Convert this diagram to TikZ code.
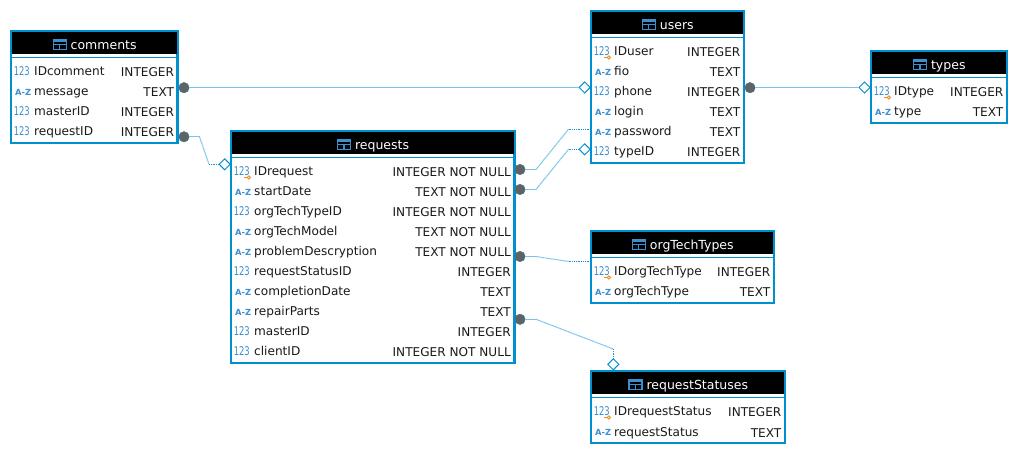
\documentclass[tikz,border=0pt]{standalone}
\usepackage{fontspec}
\setmainfont{DejaVu Sans}
\usetikzlibrary{shapes.geometric,calc}
\definecolor{erblue}{HTML}{0090D0}
\definecolor{iconblue}{HTML}{3A8FD0}
\definecolor{linklight}{HTML}{78C4EA}
\definecolor{linkdark}{HTML}{1C8FC4}
\definecolor{keyorange}{HTML}{F08A1C}
\definecolor{dotgrey}{HTML}{606264}
\tikzset{
  tablebox/.style={draw=erblue,line width=2.4pt,fill=white,inner sep=0pt,outer sep=0pt,rectangle},
  headbar/.style={fill=black,inner sep=0pt,outer sep=0pt,rectangle},
  titletext/.style={text=white,inner sep=0pt,font=\fontsize{12.5}{14}\selectfont},
  fieldname/.style={anchor=base west,inner sep=0pt,text=black!90,font=\fontsize{12.1}{14}\selectfont},
  fieldtype/.style={anchor=base east,inner sep=0pt,text=black!90,font=\fontsize{12.1}{14}\selectfont},
  numicon/.style={anchor=base west,inner sep=0pt,text=iconblue,font=\fontsize{12}{14}\selectfont},
  txticon/.style={anchor=base west,inner sep=0pt,text=iconblue,font=\fontsize{8.4}{10}\selectfont\bfseries},
  onedot/.style={circle,fill=dotgrey,draw=linkdark!60!dotgrey,line width=.4pt,minimum size=10.5pt,inner sep=0pt,outer sep=0pt},
  manydiamond/.style={diamond,draw=erblue,fill=white,line width=1pt,minimum width=11pt,minimum height=11pt,inner sep=0pt,outer sep=0pt},
  lightlink/.style={draw=linklight,line width=1pt},
  dotlink/.style={draw=linkdark,line width=.9pt,dash pattern=on .9pt off .9pt},
  lightdot/.style={draw=linklight,line width=1.1pt,dash pattern=on 1.2pt off .5pt}
}
% id, x1, y1, x2, y2, title
\newcommand{\ertable}[6]{%
  \pgfmathsetmacro{\cxv}{(#2+#4)/2}\pgfmathsetmacro{\cyv}{(#3+#5)/2}%
  \pgfmathsetmacro{\wv}{#4-#2-2.4}\pgfmathsetmacro{\hv}{#5-#3-2.4}%
  \node[tablebox,minimum width=\wv pt,minimum height=\hv pt] (#1) at (\cxv,\cyv) {};
  \pgfmathsetmacro{\hyv}{#3+13}\pgfmathsetmacro{\hwv}{#4-#2-4}%
  \node[headbar,minimum width=\hwv pt,minimum height=22pt] (#1head) at (\cxv,\hyv) {};
  \node[titletext,anchor=base] (#1title) at (\cxv,\hyv+7) {\raisebox{.8pt}{\tikz[x=1pt,y=1pt,baseline=0pt]{\draw[iconblue,line width=1.2pt] (0,-.5) rectangle (13,9.5) (0,4.5)--(13,4.5) (6.5,-.5)--(6.5,4.5);\draw[iconblue,line width=2pt] (0,8.5)--(13,8.5);}}\hspace{3.6pt}#6};
  \draw[erblue,line width=1.3pt] (#2,#3+27.5) -- (#4,#3+27.5);
}
% id, x1, x2, ycentre, kind(0 num,1 text,2 key), name, type
\newcommand{\errow}[7]{%
  \ifnum#5=1
    \node[txticon] (#1i) at (#2+5,#4+4.4) {A-Z};
  \else
    \node[numicon] (#1i) at (#2+3.6,#4+5) {\scalebox{.7}[1]{123}};
  \fi
  \ifnum#5=2
    \draw[keyorange,line width=.9pt] (#2+14,#4+6.5) -- (#2+18,#4+6.5);
    \draw[keyorange,line width=.9pt,fill=white] (#2+18.8,#4+6.5) circle (1.6);
  \fi
  \node[fieldname] (#1n) at (#2+24,#4+5) {#6};
  \node[fieldtype] (#1t) at (#3-4.5,#4+6) {#7};
}
\begin{document}
\begin{tikzpicture}[x=1pt,y=-1pt]
\useasboundingbox[fill=white] (0,0) rectangle (1018,454);

\ertable{comments}{10}{30}{178.7}{144}{comments}
\errow{cA}{10}{178.7}{71}{0}{IDcomment}{INTEGER}
\errow{cB}{10}{178.7}{91}{1}{message}{TEXT}
\errow{cC}{10}{178.7}{111}{0}{masterID}{INTEGER}
\errow{cD}{10}{178.7}{131}{0}{requestID}{INTEGER}

\ertable{users}{590}{10}{745}{164}{users}
\errow{uA}{590}{745}{51}{2}{IDuser}{INTEGER}
\errow{uB}{590}{745}{71}{1}{fio}{TEXT}
\errow{uC}{590}{745}{91}{0}{phone}{INTEGER}
\errow{uD}{590}{745}{111}{1}{login}{TEXT}
\errow{uE}{590}{745}{131}{1}{password}{TEXT}
\errow{uF}{590}{745}{151}{0}{typeID}{INTEGER}

\ertable{types}{870}{50}{1008}{124}{types}
\errow{tA}{870}{1008}{91}{2}{IDtype}{INTEGER}
\errow{tB}{870}{1008}{111}{1}{type}{TEXT}

\ertable{requests}{230}{130}{515.5}{364}{requests}
\errow{rA}{230}{515.5}{171}{2}{IDrequest}{INTEGER NOT NULL}
\errow{rB}{230}{515.5}{191}{1}{startDate}{TEXT NOT NULL}
\errow{rC}{230}{515.5}{211}{0}{orgTechTypeID}{INTEGER NOT NULL}
\errow{rD}{230}{515.5}{231}{1}{orgTechModel}{TEXT NOT NULL}
\errow{rE}{230}{515.5}{251}{1}{problemDescryption}{TEXT NOT NULL}
\errow{rF}{230}{515.5}{271}{0}{requestStatusID}{INTEGER}
\errow{rG}{230}{515.5}{291}{1}{completionDate}{TEXT}
\errow{rH}{230}{515.5}{311}{1}{repairParts}{TEXT}
\errow{rI}{230}{515.5}{331}{0}{masterID}{INTEGER}
\errow{rJ}{230}{515.5}{351}{0}{clientID}{INTEGER NOT NULL}

\ertable{org}{590}{230}{775}{304}{orgTechTypes}
\errow{oA}{590}{775}{271}{2}{IDorgTechType}{INTEGER}
\errow{oB}{590}{775}{291}{1}{orgTechType}{TEXT}

\ertable{stat}{590}{370}{786}{444}{requestStatuses}
\errow{sA}{590}{786}{411}{2}{IDrequestStatus}{INTEGER}
\errow{sB}{590}{786}{431}{1}{requestStatus}{TEXT}

% connector ends
\node[manydiamond] (dUsers) at (584.7,87.5) {};
\node[manydiamond] (dRequests) at (224.7,164.3) {};
\node[manydiamond] (dTypes) at (864.5,87.5) {};
\node[manydiamond] (dTypeID) at (584.7,149.3) {};
\node[manydiamond] (dStat) at (613.3,364.3) {};
\coordinate (pwEnd) at (590,129.3);
\coordinate (orgEnd) at (590,261.5);

\coordinate (b1a) at (199.5,136.8);
\coordinate (b1b) at (209,164.3);
\coordinate (b2a) at (536,169.5);
\coordinate (b2b) at (568.5,129.3);
\coordinate (b3a) at (536,189.5);
\coordinate (b3b) at (568.5,149.3);
\coordinate (b4a) at (536,256.5);
\coordinate (b4b) at (568.5,261.5);
\coordinate (b5a) at (536,319.3);
\coordinate (b5b) at (613.3,349);

\node[onedot] (oComments) at (184,87.7) {};
\node[onedot] (oComments2) at (184,136.8) {};
\node[onedot] (oUsers) at (750,87.7) {};
\node[onedot] (oReq1) at (520,169.5) {};
\node[onedot] (oReq2) at (520,189.5) {};
\node[onedot] (oReq3) at (520,256.5) {};
\node[onedot] (oReq4) at (520,319.3) {};

\draw[lightlink] (oComments.east) -- (oComments.east -| dUsers.west);
\draw[lightlink] (oUsers.east) -- (oUsers.east -| dTypes.west);
\draw[lightlink] (oComments2.east) -- (b1a);
\draw[lightdot] (b1a) -- (b1b);
\draw[dotlink] (b1b) -- (dRequests.west);
\draw[lightlink] (oReq1.east) -- (b2a);
\draw[lightdot] (b2a) -- (b2b);
\draw[dotlink] (b2b) -- (pwEnd);
\draw[lightlink] (oReq2.east) -- (b3a);
\draw[lightdot] (b3a) -- (b3b);
\draw[dotlink] (b3b) -- (dTypeID.west);
\draw[lightlink] (oReq3.east) -- (b4a);
\draw[lightdot] (b4a) -- (b4b);
\draw[dotlink] (b4b) -- (orgEnd);
\draw[lightlink] (oReq4.east) -- (b5a);
\draw[lightdot] (b5a) -- (b5b);
\draw[dotlink] (b5b) -- (dStat.north);
\end{tikzpicture}
\end{document}
